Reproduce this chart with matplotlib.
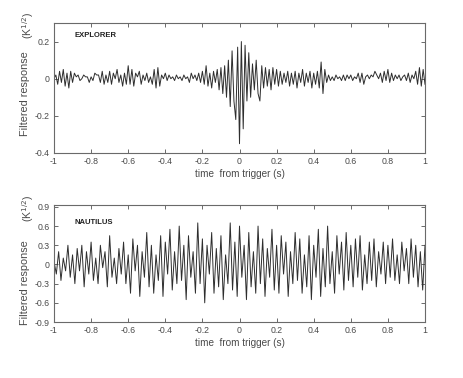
import numpy as np
import matplotlib
matplotlib.use("Agg")
import matplotlib.pyplot as plt

# ---- data ----
explorer_t_start, explorer_t_step = -1.0, 0.01
explorer = [
    0.0, 0.02, -0.03, 0.04, -0.02, 0.05, -0.04, 0.03, -0.05, 0.04,
    -0.02, 0.03, 0.01, 0.02, -0.01, 0.0, 0.02, 0.01, 0.01, -0.02,
    0.01, -0.01, 0.03, 0.02, 0.02, -0.02, 0.04, -0.03, 0.02, -0.02,
    0.04, -0.03, 0.03, 0.0, 0.05, -0.02, 0.02, -0.04, 0.03, -0.03,
    0.07, -0.03, 0.05, -0.04, 0.03, 0.01, 0.04, -0.03, 0.02, -0.01,
    0.03, -0.02, 0.01, -0.03, 0.05, -0.05, 0.06, -0.04, 0.02, 0.0,
    0.03, -0.01, 0.02, 0.0, 0.01, -0.01, 0.02, 0.0, 0.01, -0.01,
    0.02, 0.0, 0.01, -0.02, 0.03, 0.0, 0.02, -0.01, 0.03, -0.02,
    0.04, -0.03, 0.07, -0.04, 0.03, -0.05, 0.04, -0.02, 0.05, -0.06,
    0.06, -0.08, 0.07, -0.1, 0.1, -0.15, 0.15, -0.12, -0.22, 0.17,
    -0.35, 0.2, -0.27, 0.18, -0.12, 0.14, -0.1, 0.08, -0.06, 0.1,
    -0.08, -0.12, 0.07, -0.05, 0.06, -0.04, 0.05, -0.06, 0.06, -0.03,
    0.05, -0.04, 0.04, -0.03, 0.03, -0.02, 0.04, -0.04, 0.03, -0.03,
    0.04, -0.05, 0.03, -0.02, 0.05, -0.04, 0.03, -0.02, 0.04, -0.05,
    0.03, -0.03, 0.04, -0.05, 0.09, -0.08, 0.05, -0.02, 0.02, -0.01,
    0.01, -0.01, 0.02, 0.0, 0.01, -0.01, 0.02, -0.01, 0.02, 0.0,
    0.02, -0.01, 0.01, 0.0, 0.03, -0.02, 0.03, -0.03, 0.01, 0.02,
    0.0, 0.02, 0.01, 0.04, 0.02, 0.0, 0.03, -0.02, 0.04, -0.01,
    0.05, -0.02, 0.03, -0.01, 0.02, 0.0, 0.02, -0.01, 0.01, 0.02,
    -0.01, 0.03, -0.02, 0.02, 0.0, 0.04, -0.03, 0.06, -0.04, 0.05,
    -0.03,
]

nautilus_t_start, nautilus_t_step = -1.0, 0.0125
nautilus = [
    0.05, -0.15, 0.2, -0.25, 0.1, -0.1, 0.3, -0.2, 0.15, -0.3,
    0.25, -0.1, 0.3, -0.35, 0.2, -0.15, 0.35, -0.25, 0.1, -0.3,
    0.3, -0.05, 0.2, -0.35, 0.45, -0.2, 0.1, -0.3, 0.25, -0.15,
    0.35, -0.3, 0.15, -0.45, 0.4, -0.1, 0.3, -0.5, 0.2, -0.2,
    0.5, -0.35, 0.3, -0.45, 0.15, -0.25, 0.45, -0.5, 0.35, -0.15,
    0.55, -0.4, 0.2, -0.3, 0.6, -0.25, 0.3, -0.55, 0.45, -0.2,
    0.2, -0.45, 0.65, -0.3, 0.4, -0.6, 0.3, -0.15, 0.5, -0.45,
    0.25, -0.35, 0.45, -0.55, 0.15, -0.3, 0.65, -0.4, 0.35, -0.5,
    0.6, -0.2, 0.3, -0.55, 0.5, -0.35, 0.2, -0.45, 0.6, -0.3,
    0.4, -0.5, 0.25, -0.2, 0.55, -0.4, 0.3, -0.45, 0.45, -0.15,
    0.35, -0.5, 0.2, -0.3, 0.5, -0.25, 0.4, -0.45, 0.15, -0.35,
    0.45, -0.55, 0.3, -0.2, 0.55, -0.5, 0.25, -0.35, 0.6, -0.3,
    0.2, -0.45, 0.45, -0.15, 0.35, -0.4, 0.5, -0.25, 0.3, -0.35,
    0.4, -0.2, 0.45, -0.4, 0.15, -0.3, 0.35, -0.25, 0.4, -0.35,
    0.2, -0.15, 0.35, -0.3, 0.3, -0.2, 0.4, -0.25, 0.15, -0.3,
    0.35, -0.1, 0.25, -0.3, 0.4, -0.2, 0.3, -0.35, 0.2, -0.4,
    0.3,
]

x_ticks = [-1, -0.8, -0.6, -0.4, -0.2, 0, 0.2, 0.4, 0.6, 0.8, 1]
x_ticklabels = ["-1", "-0.8", "-0.6", "-0.4", "-0.2", "0", "0.2", "0.4", "0.6", "0.8", "1"]
top_yticks = [-0.4, -0.2, 0, 0.2]
top_yticklabels = ["-0.4", "-0.2", "0", "0.2"]
bot_yticks = [-0.9, -0.6, -0.3, 0, 0.3, 0.6, 0.9]
bot_yticklabels = ["-0.9", "-0.6", "-0.3", "0", "0.3", "0.6", "0.9"]
xlabel_text = "time  from trigger (s)"

# ---- figure ----
W, H = 463, 378
fig = plt.figure(figsize=(W / 100, H / 100), dpi=100)
fig.patch.set_facecolor("white")

text_col = "#4a4a4a"
spine_col = "#6a6a6a"
line_col = "#2e2e2e"
plt.rcParams["font.family"] = ["Liberation Sans", "DejaVu Sans"]


def style(ax, yt, ytl, ylim):
    ax.set_xlim(-1, 1)
    ax.set_ylim(*ylim)
    ax.set_xticks(x_ticks)
    ax.set_xticklabels(x_ticklabels)
    ax.set_yticks(yt)
    ax.set_yticklabels(ytl)
    ax.tick_params(direction="in", length=3, width=0.7, colors=spine_col,
                   labelcolor=text_col, labelsize=6.3, top=True, right=True, pad=3)
    for s in ax.spines.values():
        s.set_color(spine_col)
        s.set_linewidth(0.8)
    ax.set_xlabel(xlabel_text, fontsize=7.2, color=text_col, labelpad=2)


ax1 = fig.add_axes([54 / W, 1 - 153 / H, 371 / W, 130 / H])
t1 = explorer_t_start + explorer_t_step * np.arange(len(explorer))
ax1.plot(t1, explorer, color=line_col, lw=0.7)
style(ax1, top_yticks, top_yticklabels, (-0.4, 0.3))
ax1.text(-0.887, 0.232, "EXPLORER", fontsize=5.5, fontweight="bold", color="#222222",
         va="center", ha="left")

ax2 = fig.add_axes([54 / W, 1 - 322 / H, 371 / W, 117 / H])
t2 = nautilus_t_start + nautilus_t_step * np.arange(len(nautilus))
ax2.plot(t2, nautilus, color=line_col, lw=0.7)
style(ax2, bot_yticks, bot_yticklabels, (-0.9, 0.93))
ax2.text(-0.887, 0.65, "NAUTILUS", fontsize=5.5, fontweight="bold", color="#222222",
         va="center", ha="left")

# y labels
for yc_fr, yk in [(94, 25), (283, 208)]:
    fig.text(25 / W, 1 - yc_fr / H, "Filtered response", rotation=90, fontsize=7.8,
             color=text_col, ha="center", va="center")
    fig.text(28 / W, 1 - yk / H, r"(K$^{1/2}$)", rotation=90, fontsize=7.5,
             color=text_col, ha="center", va="center")

fig.savefig("out.png", dpi=100, facecolor="white")
